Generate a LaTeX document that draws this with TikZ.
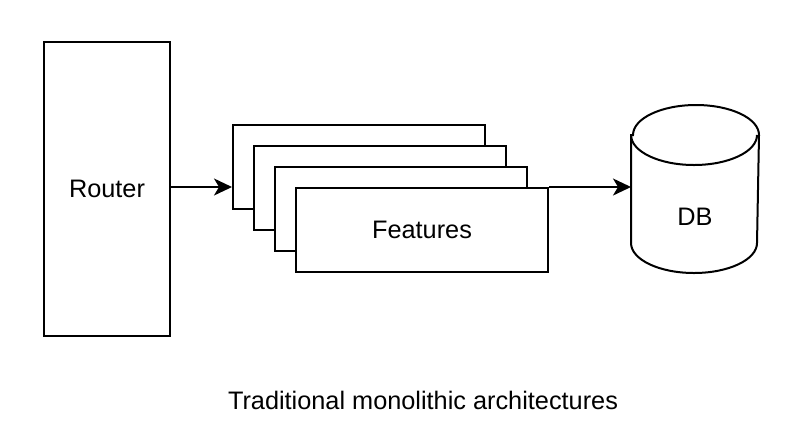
\documentclass[tikz,border=0pt]{standalone}
\usepackage{fontspec}
\setmainfont{Liberation Sans}
\usepackage{tikz}
\usetikzlibrary{arrows.meta,positioning,calc}

\begin{document}
\begin{tikzpicture}[x=1pt, y=-1pt,
    line width=2pt,
    >={Stealth[length=18pt, width=17pt, inset=5pt]},
    every node/.style={font=\fontsize{25.3}{30}\selectfont},
    router/.style={rectangle, draw=black, fill=white, minimum width=126pt, minimum height=294pt, inner sep=0pt},
    feature/.style={rectangle, draw=black, fill=white, minimum width=252pt, minimum height=84pt, inner sep=0pt},
    store/.style={rectangle, minimum width=126pt, minimum height=166pt, inner sep=0pt}
]
\useasboundingbox (0,0) rectangle (791,437);

\node[router] (router) at (107,189) {Router};

% stacked feature boxes
\node[feature] (feat1) at (359,167) {};
\node[feature] (feat2) at ($(feat1)+(21,21)$) {};
\node[feature] (feat3) at ($(feat2)+(21,21)$) {};
\node[feature] (feat4) at ($(feat3)+(21,21)$) {Features};

% database cylinder
\node[store] (db) at (695,189) {};
\draw[fill=white] ($(db.north west)+(0,30)$) -- ($(db.south west)+(0,-30)$)
    arc[start angle=180, end angle=0, x radius=63, y radius=30]
    -- ($(db.north east)+(0,30)$)
    arc[start angle=0, end angle=-180, x radius=63, y radius=30] -- cycle;
\draw ($(db.north west)+(0,30)$) arc[start angle=180, end angle=0, x radius=63, y radius=30];
\node (dblabel) at ($(db.center)+(0,28)$) {DB};

\draw[->] (router.east |- feat4.north) -- (feat1.west |- feat4.north);
\draw[->] (feat4.north east) -- (feat4.north east -| db.west);

\node (caption) at (423,400) {Traditional monolithic architectures};

\end{tikzpicture}
\end{document}
